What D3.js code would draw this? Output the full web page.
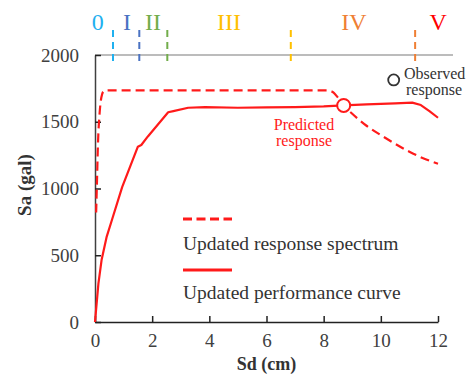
<!DOCTYPE html>
<html>
<head>
<meta charset="utf-8">
<script src="https://cdn.jsdelivr.net/npm/d3@7"></script>
<style>
  html, body { margin: 0; padding: 0; background: #fff; }
  svg { display: block; }
  svg text { font-family: "Liberation Serif", "Times New Roman", serif; }
</style>
</head>
<body>
<svg id="chart" width="475" height="374"></svg>
<script>
// Axis ticks
const sdTicks = [0, 2, 4, 6, 8, 10, 12];
const saTicks = [0, 500, 1000, 1500, 2000];

// Updated response spectrum (Sd in cm, Sa in gal)
const spectrumSd = [0.04, 0.07, 0.10, 0.16, 0.22, 0.30, 0.45, 2.0, 4.0, 6.0, 8.1, 8.3, 8.5, 8.7, 9.0, 9.5, 10.0, 10.5, 11.0, 11.5, 12.0];
const spectrumSa = [820, 1060, 1310, 1560, 1680, 1728, 1735, 1735, 1735, 1735, 1735, 1725, 1680, 1622, 1560, 1470, 1400, 1335, 1275, 1225, 1185];

// Updated performance curve
const perfSd = [0, 0.12, 0.23, 0.41, 0.60, 0.95, 1.50, 1.62, 1.85, 2.56, 2.74, 3.26, 3.85, 5.0, 6.0, 7.0, 8.0, 8.7, 9.5, 10.5, 11.1, 11.4, 11.7, 12.0];
const perfSa = [0, 290, 464, 640, 770, 1010, 1313, 1326, 1390, 1571, 1580, 1605, 1610, 1605, 1607, 1610, 1615, 1622, 1630, 1638, 1643, 1625, 1580, 1530];

// Damage stages
const stageNames  = ["0", "I", "II", "III", "IV", "V"];
const stageColors = ["#1fb0ef", "#4a72c2", "#72ad4a", "#ffc000", "#ef7f34", "#ff0000"];
const stageLabelSd = [0.10, 1.12, 2.03, 4.69, 9.06, 12.01];
const stageBoundSd = [0.63, 1.55, 2.53, 6.85, 11.2];

// Marked points
const predictedPoint = [8.7, 1622];
const observedPoint  = [10.45, 1813];

const serif = '"Liberation Serif", "Times New Roman", serif';
const svg = d3.select("#chart");
const x = d3.scaleLinear().domain([0, 12]).range([95, 438]);
const y = d3.scaleLinear().domain([0, 2000]).range([322, 55]);

// Top frame line
svg.append("line")
  .attr("x1", x(0)).attr("x2", 453)
  .attr("y1", y(2000)).attr("y2", y(2000))
  .attr("stroke", "#a6a6a6").attr("stroke-width", 1.5);

// Y axis (ticks point inward)
const yAxis = svg.append("g")
  .attr("transform", `translate(${x(0)},0)`)
  .call(d3.axisLeft(y).tickValues(saTicks).tickFormat(d3.format("d"))
    .tickSize(-6).tickPadding(16).tickSizeOuter(0));
yAxis.attr("font-family", null);
yAxis.select(".domain").attr("stroke", "#404040").attr("stroke-width", 1.5);
yAxis.selectAll(".tick line").attr("stroke", "#222").attr("stroke-width", 1.5);
yAxis.selectAll(".tick text")
  .style("font-family", serif)
  .attr("font-size", 19).attr("fill", "#404040");

// X axis (ticks point upward)
const xAxis = svg.append("g")
  .attr("transform", `translate(0,${y(0)})`)
  .call(d3.axisBottom(x).tickValues(sdTicks).tickFormat(d3.format("d"))
    .tickSize(-6).tickPadding(12).tickSizeOuter(0));
xAxis.attr("font-family", null);
xAxis.select(".domain").attr("stroke", "#222").attr("stroke-width", 1.5);
xAxis.selectAll(".tick line").attr("stroke", "#222").attr("stroke-width", 1.5);
xAxis.selectAll(".tick text")
  .style("font-family", serif)
  .attr("font-size", 19).attr("fill", "#404040");

// Axis titles
svg.append("text")
  .attr("x", (x(0) + x(12)) / 2).attr("y", 370)
  .attr("text-anchor", "middle")
  .attr("font-size", 18).attr("font-weight", "bold").attr("fill", "#333")
  .text("Sd (cm)");
svg.append("text")
  .attr("transform", "translate(31,185) rotate(-90)")
  .attr("text-anchor", "middle")
  .attr("font-size", 19).attr("font-weight", "bold").attr("fill", "#333")
  .text("Sa (gal)");

// Stage boundaries and labels
svg.append("g").selectAll("line")
  .data(stageBoundSd)
  .join("line")
  .attr("x1", d => x(d)).attr("x2", d => x(d))
  .attr("y1", 30).attr("y2", 62)
  .attr("stroke", (d, i) => stageColors[i])
  .attr("stroke-width", 2)
  .attr("stroke-dasharray", "7,5");
svg.append("g").selectAll("text")
  .data(stageNames)
  .join("text")
  .attr("x", (d, i) => x(stageLabelSd[i]))
  .attr("y", 30)
  .attr("text-anchor", "middle")
  .attr("font-size", 24)
  .attr("fill", (d, i) => stageColors[i])
  .text(d => d);

// Curves
const spectrum = spectrumSd.map((d, i) => [d, spectrumSa[i]]);
const perf = perfSd.map((d, i) => [d, perfSa[i]]);

svg.append("path")
  .datum(spectrum)
  .attr("fill", "none")
  .attr("stroke", "#ff1a1a").attr("stroke-width", 2.2)
  .attr("stroke-dasharray", "9,5")
  .attr("d", d3.line().x(d => x(d[0])).y(d => y(d[1])).curve(d3.curveMonotoneX));

svg.append("path")
  .datum(perf)
  .attr("fill", "none")
  .attr("stroke", "#ff1a1a").attr("stroke-width", 2.2)
  .attr("stroke-linejoin", "round")
  .attr("d", d3.line().x(d => x(d[0])).y(d => y(d[1])));

// Predicted (performance point) and observed response
svg.append("circle")
  .attr("cx", x(predictedPoint[0])).attr("cy", y(predictedPoint[1]))
  .attr("r", 6.5)
  .attr("fill", "#fff").attr("stroke", "#ff1a1a").attr("stroke-width", 2);
svg.append("circle")
  .attr("cx", x(observedPoint[0])).attr("cy", y(observedPoint[1]))
  .attr("r", 5.5)
  .attr("fill", "#fff").attr("stroke", "#333").attr("stroke-width", 1.8);

const predLabel = svg.append("text")
  .attr("text-anchor", "middle")
  .attr("font-size", 16).attr("fill", "#ff1a1a");
predLabel.append("tspan").attr("x", 304).attr("y", 130).text("Predicted");
predLabel.append("tspan").attr("x", 304).attr("y", 146).text("response");

const obsLabel = svg.append("text")
  .attr("text-anchor", "start")
  .attr("font-size", 16).attr("fill", "#333");
obsLabel.append("tspan").attr("x", 404).attr("y", 79).text("Observed");
obsLabel.append("tspan").attr("x", 406).attr("y", 95).text("response");

// Legend
const legend = svg.append("g");
legend.append("line")
  .attr("x1", 183).attr("x2", 232).attr("y1", 219).attr("y2", 219)
  .attr("stroke", "#ff1a1a").attr("stroke-width", 3).attr("stroke-dasharray", "9,4.5");
legend.append("text")
  .attr("x", 183).attr("y", 250)
  .attr("font-size", 19.5).attr("fill", "#333")
  .text("Updated response spectrum");
legend.append("line")
  .attr("x1", 183).attr("x2", 232).attr("y1", 270).attr("y2", 270)
  .attr("stroke", "#ff1a1a").attr("stroke-width", 3);
legend.append("text")
  .attr("x", 183).attr("y", 299)
  .attr("font-size", 19.5).attr("fill", "#333")
  .text("Updated performance curve");
</script>
</body>
</html>
